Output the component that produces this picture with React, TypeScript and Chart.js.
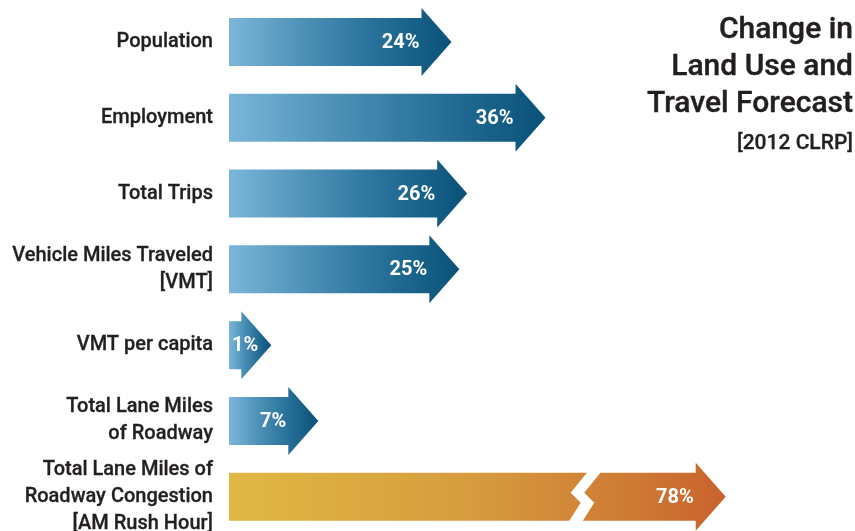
import React, { useEffect, useRef } from "react";
import { Chart, registerables } from "chart.js";

Chart.register(...registerables);

const categories: (string | string[])[] = [
  "Population",
  "Employment",
  "Total Trips",
  ["Vehicle Miles Traveled", "[VMT]"],
  "VMT per capita",
  ["Total Lane Miles", "of Roadway"],
  ["Total Lane Miles of", "Roadway Congestion", "[AM Rush Hour]"],
];
const changePct: number[] = [24, 36, 26, 25, 1, 7, 78];
const valueLabels: string[] = ["24%", "36%", "26%", "25%", "1%", "7%", "78%"];
const isCongestion: boolean[] = [false, false, false, false, false, false, true];

const titleLines: string[] = ["Change in", "Land Use and", "Travel Forecast"];
const subtitle = "[2012 CLRP]";

// axis setup (broken axis: values above the cap are drawn to the cap with a break mark)
const AXIS_MIN = -4.4;
const AXIS_MAX = 75.5;
const AXIS_CAP = 59;
const BREAK_AT = 41;

const displayValues = changePct.map((v) => Math.min(v, AXIS_CAP));

const BLUE_STOPS: [number, string][] = [
  [0, "#7bb6da"],
  [0.35, "#4b8fb5"],
  [0.7, "#226c95"],
  [1, "#0a5178"],
];
const ORANGE_STOPS: [number, string][] = [
  [0, "#e0b843"],
  [0.5, "#d69b3e"],
  [0.8, "#cf7b35"],
  [1, "#c8622e"],
];

const TEXT_COLOR = "#231f20";
const FONT = "Roboto, 'Open Sans', sans-serif";

const arrowPlugin = {
  id: "arrowBars",
  afterDatasetsDraw(chart: any) {
    const ctx: CanvasRenderingContext2D = chart.ctx;
    const meta = chart.getDatasetMeta(0);
    const xs = chart.scales.x;
    const left = xs.left;
    const HEAD = 30;
    const BODY_H = 24;
    const HEAD_H = 34;
    meta.data.forEach((el: any, i: number) => {
      const tip = el.x;
      const cy = el.y;
      const bodyEnd = tip - HEAD;
      const grad = ctx.createLinearGradient(left, 0, tip, 0);
      (isCongestion[i] ? ORANGE_STOPS : BLUE_STOPS).forEach(([o, c]) => grad.addColorStop(o, c));
      ctx.save();
      ctx.fillStyle = grad;
      ctx.beginPath();
      ctx.moveTo(left, cy - BODY_H);
      ctx.lineTo(bodyEnd, cy - BODY_H);
      ctx.lineTo(bodyEnd, cy - HEAD_H);
      ctx.lineTo(tip, cy);
      ctx.lineTo(bodyEnd, cy + HEAD_H);
      ctx.lineTo(bodyEnd, cy + BODY_H);
      ctx.lineTo(left, cy + BODY_H);
      ctx.closePath();
      ctx.fill();

      if (changePct[i] > AXIS_CAP) {
        const bx = xs.getPixelForValue(BREAK_AT);
        const top = cy - BODY_H - 1;
        const h = BODY_H * 2 + 2;
        const pts: [number, number][] = [
          [bx + 3, 0],
          [bx - 14, 0.42],
          [bx - 4, 0.62],
          [bx - 16, 1],
        ];
        const W = 13.5;
        ctx.fillStyle = "#ffffff";
        ctx.beginPath();
        pts.forEach(([x, t], k) => {
          if (k === 0) ctx.moveTo(x, top + t * h);
          else ctx.lineTo(x, top + t * h);
        });
        for (let k = pts.length - 1; k >= 0; k--) {
          ctx.lineTo(pts[k][0] + W, top + pts[k][1] * h);
        }
        ctx.closePath();
        ctx.fill();
      }

      ctx.font = `bold 20px ${FONT}`;
      ctx.fillStyle = "#ffffff";
      ctx.textBaseline = "middle";
      ctx.textAlign = "right";
      const label = valueLabels[i];
      const w = ctx.measureText(label).width;
      const tx = Math.max(bodyEnd - 2, left + 3 + w);
      ctx.fillText(label, tx, cy + 1);
      ctx.restore();
    });
  },
  afterDraw(chart: any) {
    const ctx: CanvasRenderingContext2D = chart.ctx;
    ctx.save();
    ctx.fillStyle = TEXT_COLOR;
    ctx.strokeStyle = TEXT_COLOR;
    ctx.lineWidth = 0.4;
    ctx.lineJoin = "round";
    ctx.textAlign = "right";
    ctx.textBaseline = "alphabetic";
    ctx.font = `500 30px ${FONT}`;
    const baselines = [38, 75, 112];
    titleLines.forEach((t, i) => {
      ctx.fillText(t, 853, baselines[i]);
      ctx.strokeText(t, 853, baselines[i]);
    });
    ctx.font = `500 21px ${FONT}`;
    ctx.lineWidth = 0.3;
    ctx.fillText(subtitle, 853, 149);
    ctx.strokeText(subtitle, 853, 149);
    ctx.restore();
  },
};

export default function App() {
  const ref = useRef<HTMLCanvasElement | null>(null);
  useEffect(() => {
    if (!ref.current) return;
    const chart = new Chart(ref.current, {
      type: "bar",
      data: {
        labels: categories,
        datasets: [
          {
            data: displayValues,
            backgroundColor: "rgba(0,0,0,0)",
            borderWidth: 0,
            categoryPercentage: 1,
            barPercentage: 0.63,
          },
        ],
      },
      options: {
        indexAxis: "y",
        responsive: false,
        animation: false,
        layout: { padding: { top: 4, bottom: 5.3, left: 0, right: 0 } },
        plugins: {
          legend: { display: false },
          tooltip: { enabled: false },
          title: { display: false },
        },
        scales: {
          x: {
            type: "linear",
            min: AXIS_MIN,
            max: AXIS_MAX,
            display: false,
          },
          y: {
            type: "category",
            offset: true,
            grid: { display: false, drawTicks: false },
            border: { display: false },
            ticks: {
              autoSkip: false,
              padding: 16,
              color: TEXT_COLOR,
              textStrokeColor: TEXT_COLOR,
              textStrokeWidth: 0.3,
              font: { family: FONT, size: 20, weight: "500", lineHeight: 1.35 },
            },
            afterFit: (s: any) => {
              s.width = 229;
              s.paddingTop = 0;
              s.paddingBottom = 0;
            },
          },
        },
      },
      plugins: [arrowPlugin],
    });
    return () => chart.destroy();
  }, []);
  return (
    <div style={{ position: "fixed", left: 0, top: 0, width: 855, height: 540, background: "#fff" }}>
      <canvas ref={ref} width={855} height={540} style={{ display: "block" }} />
    </div>
  );
}
